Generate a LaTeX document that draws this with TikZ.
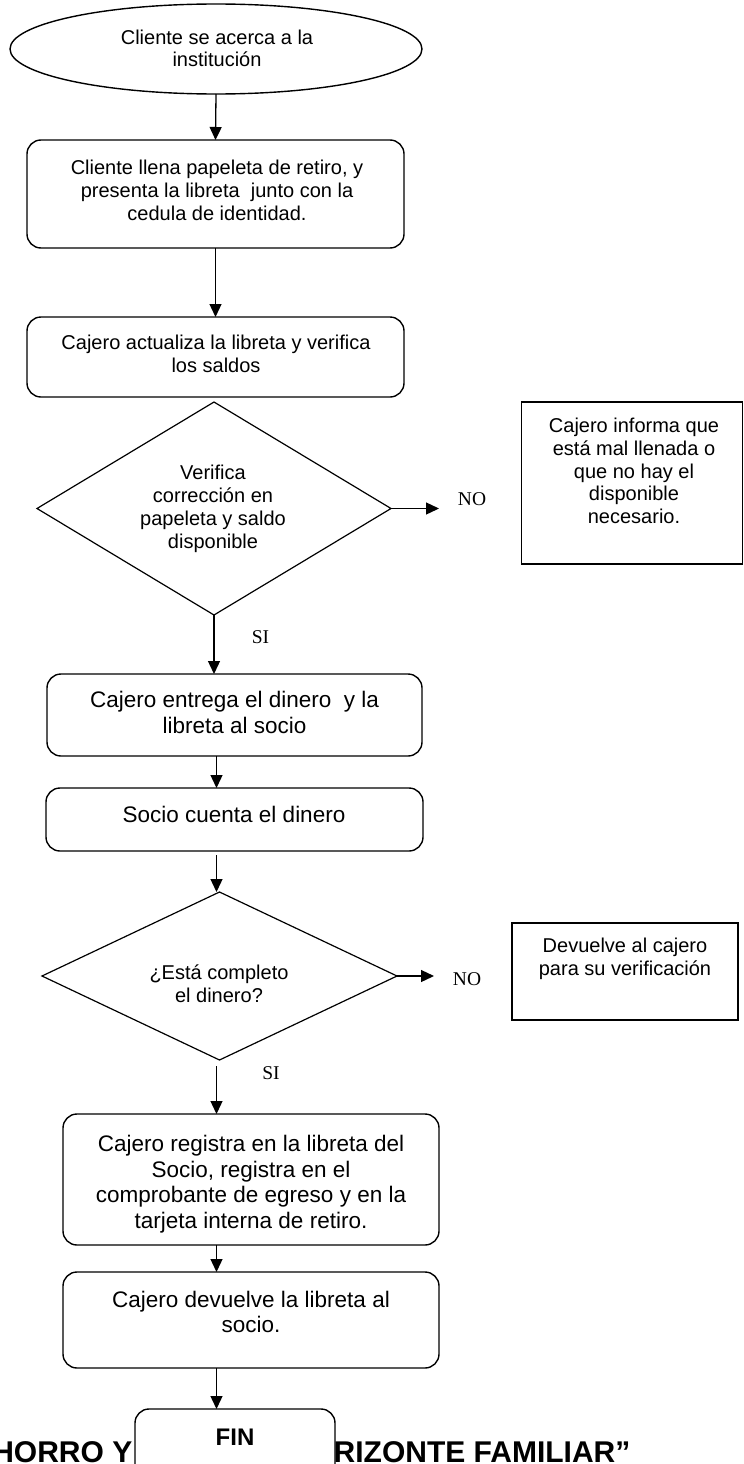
\documentclass[tikz,border=0pt]{standalone}
\usepackage{fontspec}
\setmainfont{Liberation Sans}
\newfontfamily\seriffont{Liberation Serif}
\usetikzlibrary{shapes.geometric,arrows.meta}
\begin{document}
\begin{tikzpicture}[x=1pt,y=-1pt,line width=1.4pt,
  rbox/.style={draw,rounded corners=14pt,inner sep=0pt,outer sep=0pt},
  sbox/.style={draw,inner sep=0pt,outer sep=0pt},
  dia/.style={draw,diamond,inner sep=0pt,outer sep=0pt,line width=1.2pt},
  oval/.style={draw,ellipse,inner sep=0pt,outer sep=0pt},
  txt/.style={align=center,inner sep=0pt,font=\fontsize{20}{22.8}\selectfont},
  txtb/.style={align=center,inner sep=0pt,font=\fontsize{22.5}{25.5}\selectfont},
  lbl/.style={inner sep=0pt,anchor=base,font=\seriffont\fontsize{19.5}{22}\selectfont},
  arr/.style={-{Triangle[length=13pt,width=12pt]},line width=1.3pt},
  ttl/.style={inner sep=0pt,font=\bfseries\fontsize{30}{34}\selectfont}]
\useasboundingbox (0,0) rectangle (744,1464);
\clip (0,0) rectangle (744,1464);
\coordinate (ax) at (216.5,0);
% shapes
\node[oval,minimum width=412pt,minimum height=90pt] (e) at (216,49) {};
\node[rbox,minimum width=377pt,minimum height=108pt] (b2) at (215.5,194) {};
\node[rbox,minimum width=377pt,minimum height=80pt] (b3) at (215.5,357) {};
\node[dia,minimum width=354pt,minimum height=213pt] (d1) at (214,508.5) {};
\node[sbox,minimum width=221pt,minimum height=162pt] (r1) at (632,483) {};
\node[rbox,minimum width=375pt,minimum height=82pt] (b4) at (234.5,715) {};
\node[rbox,minimum width=377pt,minimum height=63pt] (b5) at (234.5,819.5) {};
\node[dia,minimum width=355pt,minimum height=168pt] (d2) at (219.5,976) {};
\node[sbox,minimum width=226pt,minimum height=97pt] (r2) at (625,971.5) {};
\node[rbox,minimum width=376pt,minimum height=131pt] (b6) at (251,1179.5) {};
\node[rbox,minimum width=376pt,minimum height=96pt] (b7) at (251,1320) {};
% texts
\node[txt] (et) at (217,51) {\strut Cliente se acerca a la\\institución\strut};
\node[txt] (b2t) at (217,193) {\strut Cliente llena papeleta de retiro, y\\presenta la libreta\ \ junto con la\\cedula de identidad.\strut};
\node[txt] (b3t) at (216,356.5) {\strut Cajero actualiza la libreta y verifica\\los saldos\strut};
\node[txt] (d1t) at (213,509.5) {\strut Verifica\\corrección en\\papeleta y saldo\\disponible\strut};
\node[txt] (r1t) at (634,473.5) {\strut Cajero informa que\\está mal llenada o\\que no hay el\\disponible\\necesario.\strut};
\node[txtb] (b4t) at (234.5,715.3) {\strut Cajero entrega el dinero\ \ y la\\libreta al socio\strut};
\node[txtb] (b5t) at (234,817.8) {\strut Socio cuenta el dinero\strut};
\node[txt] (d2t) at (219,986.5) {\strut ¿Está completo\\el dinero?\strut};
\node[txt] (r2t) at (625,959.5) {\strut Devuelve al cajero\\para su verificación\strut};
\node[txtb] (b6t) at (251,1184.8) {\strut Cajero registra en la libreta del\\Socio, registra en el\\comprobante de egreso y en la\\tarjeta interna de retiro.\strut};
\node[txtb] (b7t) at (251,1314.8) {\strut Cajero devuelve la libreta al\\socio.\strut};
% labels
\node[lbl] (no1) at (472,505.5) {NO};
\node[lbl] (si1) at (260.5,643) {SI};
\node[lbl] (no2) at (467,985) {NO};
\node[lbl] (si2) at (271,1079) {SI};
% title fragments and FIN
\node[ttl,anchor=base east] (tl) at (133,1462) {HORRO Y};
\node[ttl,anchor=base west] (tr) at (333,1462) {RIZONTE FAMILIAR”};
\node[rbox,fill=white,minimum width=200pt,minimum height=90pt] (fin) at (235,1454) {};
\node[inner sep=0pt,anchor=base,font=\bfseries\fontsize{24}{28}\selectfont] (fint) at (235,1445) {FIN};
% connectors
\coordinate (no1tip) at (439,508.5);
\coordinate (no2tip) at (434,976);
\draw[arr] (e.south) -- (b2.north);
\draw[arr] (b2.south) -- (b3.north);
\draw[arr] (d1.east) -- (no1tip);
\draw[arr] (d1.south) -- (d1.south |- b4.north);
\draw[arr] (b4.south -| ax) -- (b5.north -| ax);
\draw[arr] ([yshift=-4pt]b5.south -| ax) -- (d2.north -| ax);
\draw[arr] (d2.east) -- (no2tip);
\draw[arr] ([yshift=-6pt]d2.south -| ax) -- (b6.north -| ax);
\draw[arr] (b6.south -| ax) -- (b7.north -| ax);
\draw[arr] (b7.south -| ax) -- (fin.north -| ax);
\end{tikzpicture}
\end{document}
